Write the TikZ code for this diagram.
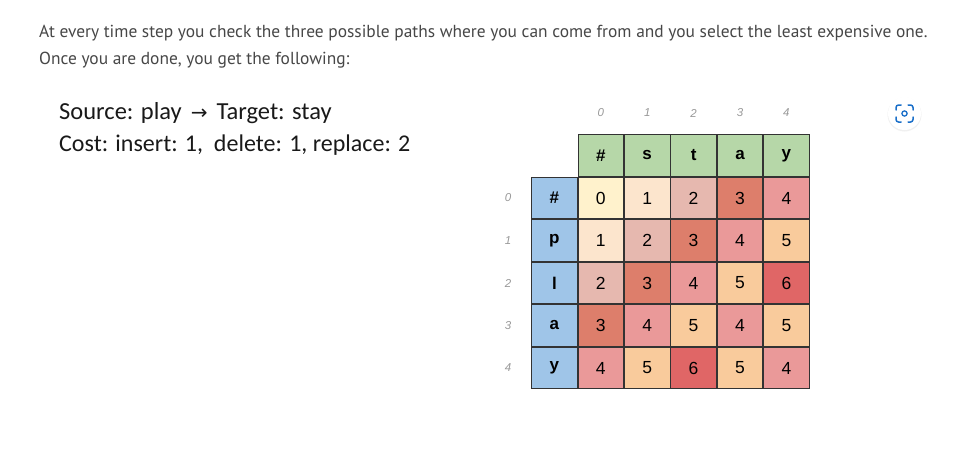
\documentclass[tikz,border=0pt]{standalone}
\usepackage{fontspec}
\setmainfont{Liberation Sans}
\newfontfamily\bodyfont{PT Sans}
\newfontfamily\headfont{Carlito}
\newfontfamily\arrowfont{DejaVu Sans}
\usetikzlibrary{matrix, positioning}
\definecolor{hdrtop}{HTML}{B6D7A8}
\definecolor{hdrleft}{HTML}{9FC5E8}
\definecolor{val0}{HTML}{FFF2CC}
\definecolor{val1}{HTML}{FCE5CD}
\definecolor{val2}{HTML}{E6B8AF}
\definecolor{val3}{HTML}{DD7E6B}
\definecolor{val4}{HTML}{EA9999}
\definecolor{val5}{HTML}{F9CB9C}
\definecolor{val6}{HTML}{E06666}
\definecolor{lensblue}{HTML}{1A6FC9}
\tikzset{
  cellbox/.style={draw=black!80, line width=0.8pt, font=\fontsize{17.5}{18}\selectfont},
  top/.style={cellbox, fill=hdrtop, font=\fontsize{17}{18}\selectfont\bfseries},
  lft/.style={cellbox, fill=hdrleft, font=\fontsize{17}{18}\selectfont\bfseries},
  idx/.style={minimum width=46.4pt, minimum height=42.5pt, text=black!40, font=\fontsize{11.5}{12}\selectfont\itshape},
  a/.style={cellbox, fill=val0}, b/.style={cellbox, fill=val1},
  c/.style={cellbox, fill=val2}, d/.style={cellbox, fill=val3},
  e/.style={cellbox, fill=val4}, f/.style={cellbox, fill=val5},
  g/.style={cellbox, fill=val6},
  bodyline/.style={anchor=base west, inner sep=0pt, text=black!72, font=\bodyfont\fontsize{17.4}{18}\selectfont},
  headline/.style={anchor=base west, inner sep=0pt, text=black!90, font=\headfont\fontsize{24}{24}\selectfont},
  lens/.style={draw=lensblue, line width=1.5pt, line cap=round, rounded corners=2.5pt}
}
\begin{document}
\begin{tikzpicture}
  \useasboundingbox (0,0) rectangle (969pt,-463pt);
  \fill[white] (0,0) rectangle (969pt,-463pt);
  \node[bodyline] (introa) at (39pt,-37pt) {At every time step you check the three possible paths where you can come from and you select the least expensive one.};
  \node[bodyline] (introb) at (39pt,-64pt) {Once you are done, you get the following:};
  \node[headline] (source) at (59pt,-119pt) {\fontsize{24.5}{24}\selectfont Source: play\hspace{3.5pt} {\arrowfont\fontsize{20}{20}\selectfont →}\hspace{3.5pt} Target: stay};
  \node[headline] (cost) at (59pt,-151pt) {Cost: insert: 1,~ delete: 1, replace: 2};
  \matrix (m) [matrix of nodes, anchor=north west, inner sep=0pt, outer sep=0pt,
    nodes={anchor=center, minimum width=45.6pt, minimum height=41.7pt, inner sep=0pt, outer sep=0pt}]
    at (484.8pt,-91.75pt)
  {
    & & |[idx]|0 & |[idx]|1 & |[idx]|2 & |[idx]|3 & |[idx]|4 \\
    & & |[top]|\# & |[top]|s & |[top]|t & |[top]|a & |[top]|y \\
    |[idx]|0 & |[lft]|\# & |[a]|0 & |[b]|1 & |[c]|2 & |[d]|3 & |[e]|4 \\
    |[idx]|1 & |[lft]|p & |[b]|1 & |[c]|2 & |[d]|3 & |[e]|4 & |[f]|5 \\
    |[idx]|2 & |[lft]|l & |[c]|2 & |[d]|3 & |[e]|4 & |[f]|5 & |[g]|6 \\
    |[idx]|3 & |[lft]|a & |[d]|3 & |[e]|4 & |[f]|5 & |[e]|4 & |[f]|5 \\
    |[idx]|4 & |[lft]|y & |[e]|4 & |[f]|5 & |[g]|6 & |[f]|5 & |[e]|4 \\
  };
  % scan button
  \fill[black!6] (904.5pt,-114.5pt) circle (17pt);
  \fill[white] (904.5pt,-113.5pt) circle (16.5pt);
  \draw[lens] (896pt,-110pt) -- (896pt,-105pt) -- (901pt,-105pt);
  \draw[lens] (908pt,-105pt) -- (913pt,-105pt) -- (913pt,-110pt);
  \draw[lens] (913pt,-117pt) -- (913pt,-122pt) -- (908pt,-122pt);
  \draw[lens] (901pt,-122pt) -- (896pt,-122pt) -- (896pt,-117pt);
  \draw[lensblue, line width=1.3pt] (904.5pt,-113.5pt) circle (2.6pt);
\end{tikzpicture}
\end{document}
